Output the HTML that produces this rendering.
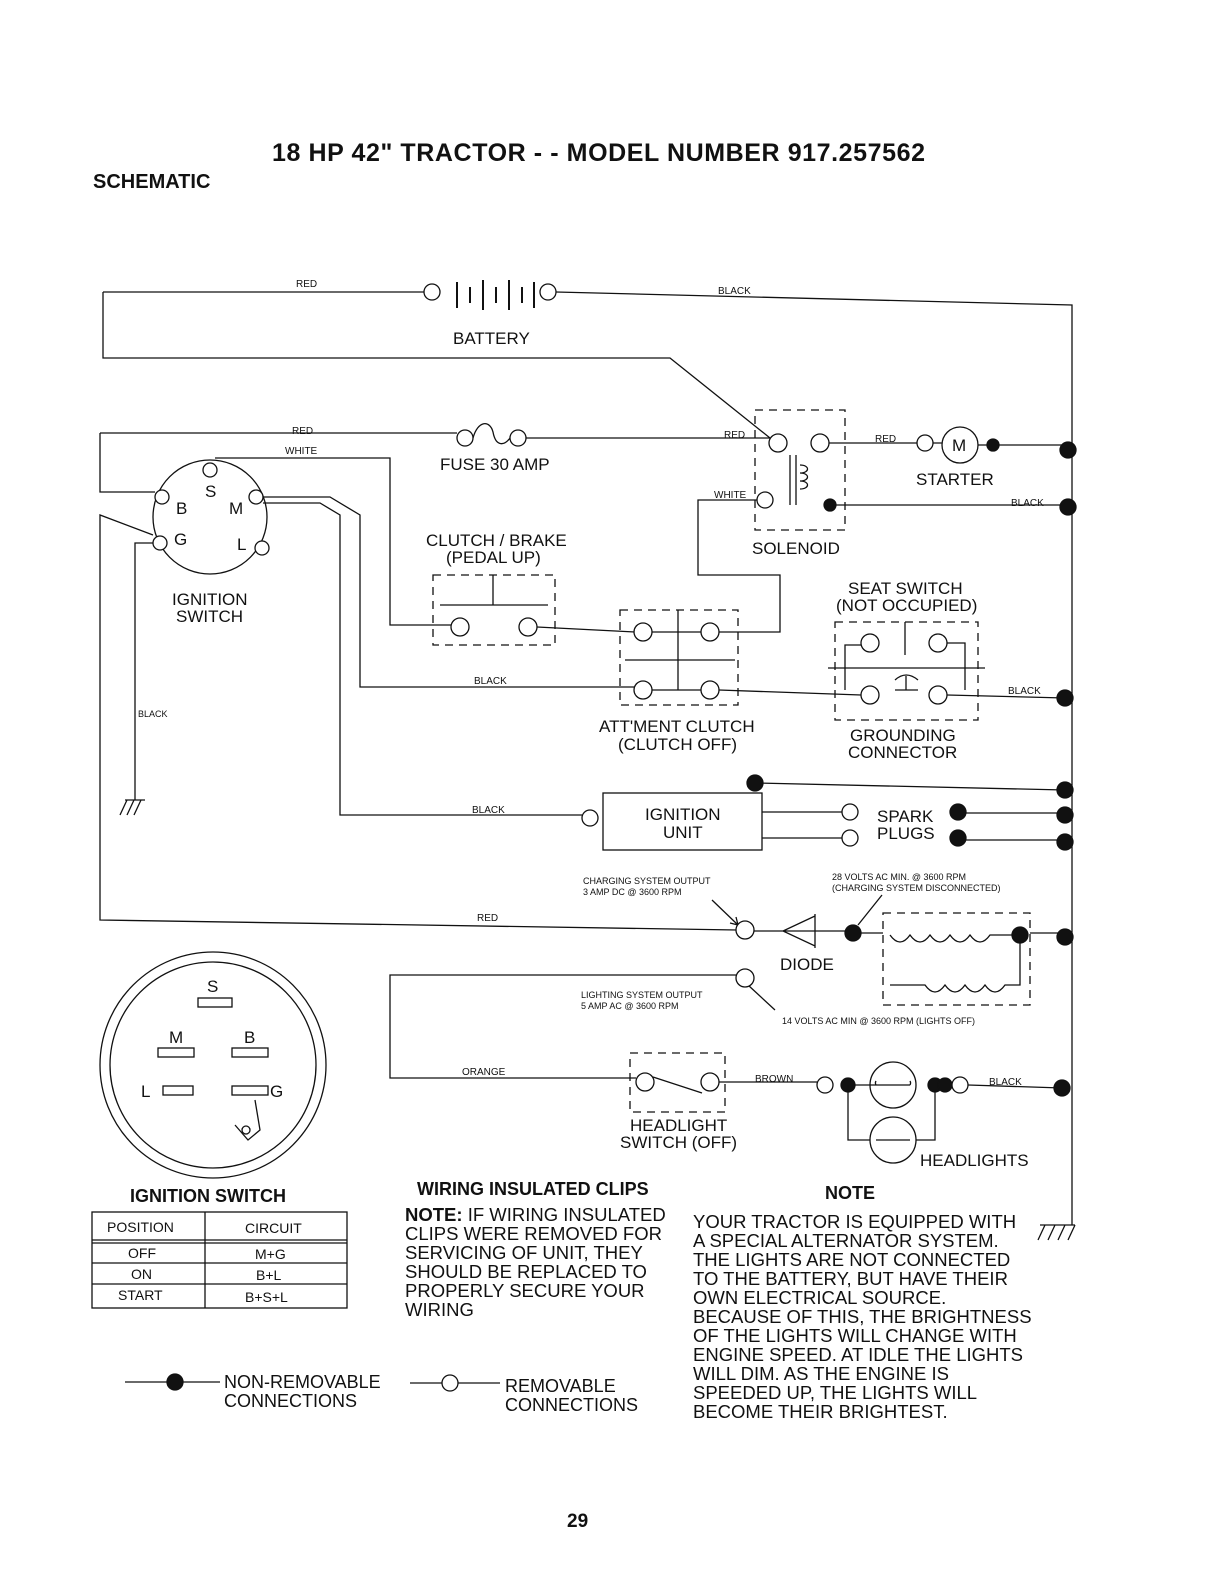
<!DOCTYPE html>
<html><head><style>
body{margin:0;background:#fff}
svg{display:block}
text{font-family:"Liberation Sans",sans-serif;fill:#111}
.l{font-size:17px}
.s{font-size:10px}
.xs{font-size:9px}
</style></head><body>
<svg width="1224" height="1584" viewBox="0 0 1224 1584" xmlns="http://www.w3.org/2000/svg" stroke="#111" stroke-width="1.3" fill="none">
<g stroke="none">
<text x="272" y="161" font-size="25" font-weight="bold" textLength="653">18 HP 42" TRACTOR - - MODEL NUMBER 917.257562</text>
<text x="93" y="188" font-size="20" font-weight="bold">SCHEMATIC</text>
</g>
<!-- battery -->
<path d="M103,292 H424 M556,292 L1072,305 V1225 M103,292 V358 H670 L770,438"/>
<circle cx="432" cy="292" r="8" fill="#fff"/><circle cx="548" cy="292" r="8" fill="#fff"/>
<path d="M457,282 V308 M470,287 V303 M483,280 V310 M496,287 V303 M509,280 V310 M522,287 V303 M534,282 V308" stroke-width="2"/>
<g stroke="none"><text x="296" y="287" class="s">RED</text><text x="718" y="294" class="s">BLACK</text><text x="453" y="344" class="l">BATTERY</text></g>
<!-- fuse -->
<path d="M100,433 H457 M526,438 H770 M473,438 C478,420 490,420 493,432 C496,448 505,445 510,438"/>
<circle cx="465" cy="438" r="8" fill="#fff"/><circle cx="518" cy="438" r="8" fill="#fff"/>
<g stroke="none"><text x="292" y="434" class="s">RED</text><text x="285" y="454" class="s">WHITE</text><text x="440" y="470" class="l">FUSE 30 AMP</text></g>
<path d="M215,458 H390 V625 H452 M100,433 V492 H155"/>
<!-- ignition switch -->
<circle cx="210" cy="517" r="57"/>
<circle cx="210" cy="470" r="7" fill="#fff"/><circle cx="162" cy="497" r="7" fill="#fff"/><circle cx="256" cy="497" r="7" fill="#fff"/><circle cx="160" cy="543" r="7" fill="#fff"/><circle cx="262" cy="548" r="7" fill="#fff"/>
<g stroke="none"><text x="205" y="497" class="l">S</text><text x="176" y="514" class="l">B</text><text x="229" y="514" class="l">M</text><text x="174" y="545" class="l">G</text><text x="237" y="550" class="l">L</text>
<text x="172" y="605" class="l">IGNITION</text><text x="176" y="622" class="l">SWITCH</text><text x="138" y="717" class="xs">BLACK</text></g>
<path d="M263,497 H330 L360,515 V687 H634 M263,503 H320 L340,515 V815 H582 M153,543 H135 V800 M153,535 L100,515 V920 L737,930"/>
<path d="M125,800 H145 M127,800 L120,815 M134,800 L127,815 M141,800 L134,815"/>
<!-- solenoid -->
<rect x="755" y="410" width="90" height="120" stroke-dasharray="8,6"/>
<circle cx="778" cy="443" r="9" fill="#fff"/><circle cx="820" cy="443" r="9" fill="#fff"/>
<path d="M790,455 V505 M796,455 V505 M800,465 c10,0 10,8 0,8 c10,0 10,8 0,8 c10,0 10,8 0,8"/>
<circle cx="765" cy="500" r="8" fill="#fff"/><circle cx="830" cy="505" r="6" fill="#111"/>
<g stroke="none"><text x="724" y="438" class="s">RED</text><text x="714" y="498" class="s">WHITE</text><text x="752" y="554" class="l">SOLENOID</text></g>
<path d="M829,443 H917 M933,443 H942 M978,445 H1068 M836,505 H1068"/>
<circle cx="925" cy="443" r="8" fill="#fff"/><circle cx="960" cy="445" r="18" fill="#fff"/><circle cx="993" cy="445" r="6" fill="#111"/>
<circle cx="1068" cy="450" r="8" fill="#111"/><circle cx="1068" cy="507" r="8" fill="#111"/>
<g stroke="none"><text x="952" y="451" class="l">M</text><text x="875" y="442" class="s">RED</text><text x="916" y="485" class="l">STARTER</text><text x="1011" y="506" class="s">BLACK</text></g>
<path d="M757,500 H698 V575 H780 V632 H718"/>
<!-- clutch/brake -->
<g stroke="none"><text x="426" y="546" class="l">CLUTCH / BRAKE</text><text x="446" y="563" class="l">(PEDAL UP)</text></g>
<rect x="433" y="575" width="122" height="70" stroke-dasharray="8,6"/>
<path d="M440,605 H548 M493,575 V605"/>
<circle cx="460" cy="627" r="9" fill="#fff"/><circle cx="528" cy="627" r="9" fill="#fff"/>
<path d="M537,627 L635,632"/>
<!-- att clutch -->
<rect x="620" y="610" width="118" height="95" stroke-dasharray="8,6"/>
<path d="M625,660 H735 M678,610 V690" />
<circle cx="643" cy="632" r="9" fill="#fff"/><circle cx="710" cy="632" r="9" fill="#fff"/><circle cx="643" cy="690" r="9" fill="#fff"/><circle cx="710" cy="690" r="9" fill="#fff"/>
<path d="M652,632 H701 M652,690 H701"/>
<g stroke="none"><text x="474" y="684" class="s">BLACK</text><text x="599" y="732" class="l">ATT'MENT CLUTCH</text><text x="618" y="750" class="l">(CLUTCH OFF)</text></g>
<path d="M719,690 L861,695"/>
<!-- seat switch -->
<g stroke="none"><text x="848" y="594" class="l">SEAT SWITCH</text><text x="836" y="611" class="l">(NOT OCCUPIED)</text></g>
<rect x="835" y="622" width="143" height="98" stroke-dasharray="8,6"/>
<circle cx="870" cy="643" r="9" fill="#fff"/><circle cx="938" cy="643" r="9" fill="#fff"/><circle cx="870" cy="695" r="9" fill="#fff"/><circle cx="938" cy="695" r="9" fill="#fff"/>
<path d="M845,690 V645 H861 M947,643 H965 V690 M905,622 V655 M828,668 H985 M895,690 H918 M906,676 V690 M895,680 Q906,670 918,680" />
<path d="M947,695 L1065,698"/>
<circle cx="1065" cy="698" r="8" fill="#111"/>
<g stroke="none"><text x="1008" y="694" class="s">BLACK</text><text x="850" y="741" class="l">GROUNDING</text><text x="848" y="758" class="l">CONNECTOR</text></g>
<!-- ignition unit -->
<rect x="603" y="793" width="159" height="57"/>
<circle cx="590" cy="818" r="8" fill="#fff"/>
<g stroke="none"><text x="472" y="813" class="s">BLACK</text><text x="645" y="820" class="l">IGNITION</text><text x="663" y="838" class="l">UNIT</text>
<text x="877" y="822" class="l">SPARK</text><text x="877" y="839" class="l">PLUGS</text></g>
<path d="M762,812 H842 M762,838 H842 M966,813 H1065 M966,840 H1065 M755,783 L1065,790"/>
<circle cx="850" cy="812" r="8" fill="#fff"/><circle cx="850" cy="838" r="8" fill="#fff"/>
<circle cx="958" cy="812" r="8" fill="#111"/><circle cx="958" cy="838" r="8" fill="#111"/><circle cx="755" cy="783" r="8" fill="#111"/>
<circle cx="1065" cy="790" r="8" fill="#111"/><circle cx="1065" cy="815" r="8" fill="#111"/><circle cx="1065" cy="842" r="8" fill="#111"/>
<!-- charging -->
<g stroke="none"><text x="583" y="884" class="xs">CHARGING SYSTEM OUTPUT</text><text x="583" y="895" class="xs">3 AMP DC @ 3600 RPM</text>
<text x="832" y="880" class="xs">28 VOLTS AC MIN. @ 3600 RPM</text><text x="832" y="891" class="xs">(CHARGING SYSTEM DISCONNECTED)</text>
<text x="477" y="921" class="s">RED</text><text x="780" y="970" class="l">DIODE</text><text x="890" y="970" class="l">ALTERNATOR</text>
<text x="581" y="998" class="xs">LIGHTING SYSTEM OUTPUT</text><text x="581" y="1009" class="xs">5 AMP AC @ 3600 RPM</text>
<text x="782" y="1024" class="xs">14 VOLTS AC MIN  @ 3600 RPM (LIGHTS OFF)</text></g>
<path d="M712,900 L738,925 M738,925 l-8,-2 M738,925 l-2,-8 M882,895 L858,925 M748,985 L775,1010"/>
<circle cx="745" cy="930" r="9" fill="#fff"/>
<path d="M754,931 H845 M815,914 V948 M815,916 L783,931 L815,946 Z M860,933 H1060"/>
<circle cx="853" cy="933" r="8" fill="#111"/>
<rect x="883" y="913" width="147" height="92" stroke-dasharray="8,6" fill="#fff"/>
<path d="M890,935 q10,14 20,0 q10,14 20,0 q10,14 20,0 q10,14 20,0 q10,14 20,0 H1020 V985 H1005 q-10,14 -20,0 q-10,14 -20,0 q-10,14 -20,0 q-10,14 -20,0 H890"/>
<circle cx="1020" cy="935" r="8" fill="#111"/><circle cx="1065" cy="937" r="8" fill="#111"/>
<circle cx="745" cy="978" r="9" fill="#fff"/>
<path d="M736,975 H390 V1078 H636"/>
<!-- headlight switch -->
<rect x="630" y="1053" width="95" height="59" stroke-dasharray="8,6"/>
<circle cx="645" cy="1082" r="9" fill="#fff"/><circle cx="710" cy="1082" r="9" fill="#fff"/>
<path d="M653,1077 L702,1093 M719,1082 H817"/>
<g stroke="none"><text x="462" y="1075" class="s">ORANGE</text><text x="755" y="1082" class="s">BROWN</text><text x="630" y="1131" class="l">HEADLIGHT</text><text x="620" y="1148" class="l">SWITCH (OFF)</text>
<text x="989" y="1085" class="s">BLACK</text><text x="920" y="1166" class="l">HEADLIGHTS</text></g>
<circle cx="825" cy="1085" r="8" fill="#fff"/><circle cx="848" cy="1085" r="7" fill="#111"/>
<circle cx="893" cy="1085" r="23"/><path d="M855,1085 H910 M876,1085 a4,4 0 0,1 0,-4 M910,1085 a4,4 0 0,0 0,-4"/>
<path d="M848,1085 V1140 H870 M935,1085 V1140 H916"/>
<circle cx="893" cy="1140" r="23"/><path d="M876,1140 H910"/>
<circle cx="935" cy="1085" r="7" fill="#111"/><circle cx="945" cy="1085" r="7" fill="#111"/><circle cx="960" cy="1085" r="8" fill="#fff"/>
<path d="M968,1085 L1062,1088"/><circle cx="1062" cy="1088" r="8" fill="#111"/>
<path d="M1040,1225 H1075 M1045,1225 L1038,1240 M1055,1225 L1048,1240 M1065,1225 L1058,1240 M1075,1225 L1068,1240"/>
<!-- switch face -->
<circle cx="213" cy="1065" r="113"/><circle cx="213" cy="1065" r="103"/>
<rect x="198" y="998" width="34" height="9"/><rect x="158" y="1048" width="36" height="9"/><rect x="232" y="1048" width="36" height="9"/>
<rect x="163" y="1086" width="30" height="9"/><rect x="232" y="1086" width="36" height="9"/>
<path d="M235,1125 L248,1140 L260,1130 L255,1100"/><circle cx="246" cy="1130" r="4"/>
<g stroke="none"><text x="207" y="992" class="l">S</text><text x="169" y="1043" class="l">M</text><text x="244" y="1043" class="l">B</text><text x="141" y="1097" class="l">L</text><text x="270" y="1097" class="l">G</text>
<text x="130" y="1202" font-size="18" font-weight="bold">IGNITION SWITCH</text></g>
<!-- table -->
<rect x="92" y="1212" width="255" height="96"/>
<path d="M205,1212 V1308 M92,1240 H347 M92,1243 H347 M92,1263 H347 M92,1284 H347"/>
<g stroke="none"><text x="107" y="1232" font-size="14">POSITION</text><text x="245" y="1233" font-size="14">CIRCUIT</text>
<text x="128" y="1258" font-size="14">OFF</text><text x="255" y="1259" font-size="14">M+G</text>
<text x="131" y="1279" font-size="14">ON</text><text x="256" y="1280" font-size="14">B+L</text>
<text x="118" y="1300" font-size="14">START</text><text x="245" y="1302" font-size="14">B+S+L</text></g>
<!-- notes -->
<g stroke="none">
<text x="417" y="1195" font-size="18" font-weight="bold">WIRING INSULATED CLIPS</text>
<text x="405" y="1221" font-size="18.5"><tspan font-weight="bold">NOTE:</tspan> IF WIRING INSULATED</text>
<text x="405" y="1240" font-size="18.5">CLIPS WERE REMOVED FOR</text>
<text x="405" y="1259" font-size="18.5">SERVICING OF UNIT, THEY</text>
<text x="405" y="1278" font-size="18.5">SHOULD BE REPLACED TO</text>
<text x="405" y="1297" font-size="18.5">PROPERLY SECURE YOUR</text>
<text x="405" y="1316" font-size="18.5">WIRING</text>
<text x="825" y="1199" font-size="18" font-weight="bold">NOTE</text>
<text x="693" y="1228" font-size="18.5">YOUR TRACTOR IS EQUIPPED WITH</text>
<text x="693" y="1247" font-size="18.5">A SPECIAL ALTERNATOR SYSTEM.</text>
<text x="693" y="1266" font-size="18.5">THE LIGHTS ARE NOT CONNECTED</text>
<text x="693" y="1285" font-size="18.5">TO  THE BATTERY, BUT HAVE THEIR</text>
<text x="693" y="1304" font-size="18.5">OWN ELECTRICAL SOURCE.</text>
<text x="693" y="1323" font-size="18.5">BECAUSE OF THIS, THE BRIGHTNESS</text>
<text x="693" y="1342" font-size="18.5">OF THE LIGHTS WILL CHANGE WITH</text>
<text x="693" y="1361" font-size="18.5">ENGINE SPEED.  AT IDLE THE LIGHTS</text>
<text x="693" y="1380" font-size="18.5">WILL DIM.  AS THE ENGINE IS</text>
<text x="693" y="1399" font-size="18.5">SPEEDED UP, THE LIGHTS WILL</text>
<text x="693" y="1418" font-size="18.5">BECOME THEIR BRIGHTEST.</text>
<text x="224" y="1388" font-size="18">NON-REMOVABLE</text><text x="224" y="1407" font-size="18">CONNECTIONS</text>
<text x="505" y="1392" font-size="18">REMOVABLE</text><text x="505" y="1411" font-size="18">CONNECTIONS</text>
<text x="567" y="1527" font-size="19" font-weight="bold">29</text></g>
<path d="M125,1382 H220 M410,1383 H500"/>
<circle cx="175" cy="1382" r="8" fill="#111"/><circle cx="450" cy="1383" r="8" fill="#fff"/>
</svg>
</body></html>
